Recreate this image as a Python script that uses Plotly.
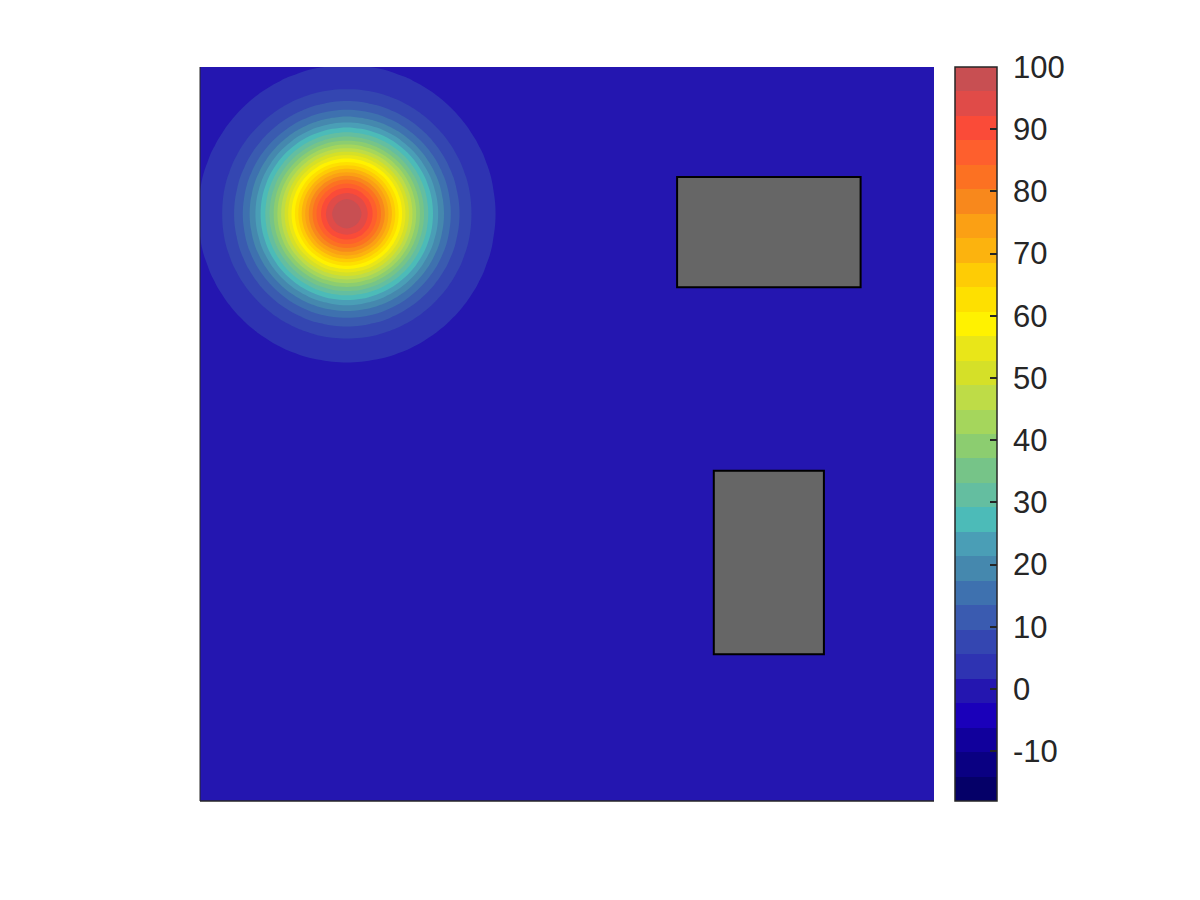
import numpy as np
import plotly.graph_objects as go

# ---- data ----
# Gaussian bump (peak value, centre, decay) on a unit square grid
peak_value = 100.0
peak_x = 0.2
peak_y = 0.8
decay = 100.0           # value = peak * exp(-decay * r^2)
grid_n = 101

# colour scale limits and number of filled levels
z_min = -18.0
z_max = 100.0
n_levels = 30

# grey obstacles (x0, x1, y0, y1)
obst_x0 = [0.65, 0.70]
obst_x1 = [0.90, 0.85]
obst_y0 = [0.70, 0.20]
obst_y1 = [0.85, 0.45]

# colorbar tick values
cb_ticks = [-10, 0, 10, 20, 30, 40, 50, 60, 70, 80, 90, 100]

# band colours, bottom (-18) to top (100)
band_colors = [
    "#050068", "#0A0082", "#11009C", "#1A00BA", "#2416B0",
    "#2E33B2", "#3446B1", "#3A5BB0", "#3E71AF", "#4588AE",
    "#4A9EB6", "#4CBBB8", "#64BEA0", "#76C488", "#8CCD70",
    "#A5D65C", "#BEDC47", "#D5E028", "#E9E618", "#FFF200",
    "#FEE000", "#FECC05", "#FCB30E", "#FBA014", "#F8881C",
    "#FC7122", "#FE5F2D", "#FA4B38", "#E04B48", "#C84F52",
]

# ---- build field ----
gx = np.linspace(0, 1, grid_n)
gy = np.linspace(0, 1, grid_n)
X, Y = np.meshgrid(gx, gy)
Z = peak_value * np.exp(-decay * ((X - peak_x) ** 2 + (Y - peak_y) ** 2))

# step colourscale
cscale = []
for i, c in enumerate(band_colors):
    cscale.append([i / n_levels, c])
    cscale.append([(i + 1) / n_levels, c])

step = (z_max - z_min) / n_levels

fig = go.Figure()
fig.add_trace(go.Contour(
    x=gx, y=gy, z=Z,
    zmin=z_min, zmax=z_max,
    colorscale=cscale,
    contours=dict(start=z_min, end=z_max, size=step, coloring="fill", showlines=False),
    line=dict(width=0),
    colorbar=dict(
        x=(955 - 200) / 734, xanchor="left", xpad=0,
        y=0.5, yanchor="middle", ypad=0,
        len=1, lenmode="fraction", thickness=42,
        outlinecolor="#262626", outlinewidth=1.5,
        ticks="inside", ticklen=7, tickwidth=1.5, tickcolor="#262626",
        tickvals=cb_ticks, ticktext=["\u00a0" + str(t) for t in cb_ticks],
        tickfont=dict(family="Liberation Sans, Arial, sans-serif", size=31, color="#262626"),
    ),
    hoverinfo="skip",
))

for x0, x1, y0, y1 in zip(obst_x0, obst_x1, obst_y0, obst_y1):
    fig.add_shape(type="rect", xref="x", yref="y", x0=x0, x1=x1, y0=y0, y1=y1,
                  fillcolor="#666666", line=dict(color="#000000", width=2), layer="above")

# axis lines (left and bottom)
fig.add_shape(type="line", xref="paper", yref="paper", x0=0, x1=1, y0=0, y1=0,
              line=dict(color="#262626", width=1.5), layer="above")
fig.add_shape(type="line", xref="paper", yref="paper", x0=0, x1=0, y0=0, y1=1,
              line=dict(color="#262626", width=1), layer="above")

fig.update_layout(
    width=1200, height=900,
    margin=dict(l=192, r=274, t=59, b=107),
    paper_bgcolor="white", plot_bgcolor="white",
    showlegend=False,
    xaxis=dict(range=[0, 1], showticklabels=False, ticks="", showgrid=False, zeroline=False,
               showline=False),
    yaxis=dict(range=[0, 1], showticklabels=False, ticks="", showgrid=False, zeroline=False,
               showline=False),
)

fig.write_html("out.html")
